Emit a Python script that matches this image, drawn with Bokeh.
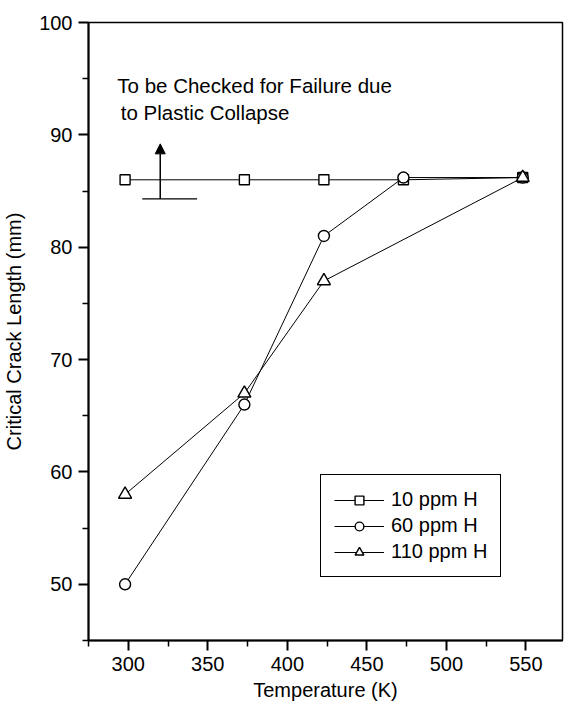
from bokeh.plotting import figure
from bokeh.models import (Range1d, Legend, LegendItem, Label, Arrow, NormalHead,
                          FixedTicker)
from bokeh.embed import file_html
from bokeh.resources import INLINE

# Data
temps = [298, 373, 423, 473, 548]
ppm10 = [86, 86, 86, 86, 86.2]
ppm60 = [50, 66, 81, 86.2, 86.2]
temps110 = [298, 373, 423, 548]
ppm110 = [58, 67, 77, 86.2]

x_ticks = [300, 350, 400, 450, 500, 550]
y_ticks = [50, 60, 70, 80, 90, 100]

FONT = "Liberation Sans"

p = figure(width=564, height=705, output_backend="svg", toolbar_location=None,
           x_range=Range1d(275, 573), y_range=Range1d(45, 100),
           min_border_left=88, min_border_right=2, min_border_top=22,
           min_border_bottom=65)
p.background_fill_color = "white"
p.border_fill_color = "white"
p.grid.visible = False
p.outline_line_color = "black"
p.outline_line_width = 1.5
p.outline_line_alpha = 1

for ax in (p.xaxis[0], p.yaxis[0]):
    ax.axis_line_width = 2
    ax.axis_line_color = "black"
    ax.major_tick_line_width = 2
    ax.minor_tick_line_width = 1.5
    ax.major_tick_out = 10
    ax.major_tick_in = 0
    ax.minor_tick_out = 6
    ax.minor_tick_in = 0
    ax.major_label_text_font = FONT
    ax.major_label_text_font_size = "20px"
    ax.major_label_text_color = "black"
    ax.axis_label_text_font = FONT
    ax.axis_label_text_font_size = "20px"
    ax.axis_label_text_font_style = "normal"
    ax.axis_label_text_color = "black"
    ax.major_label_standoff = 6

p.xaxis.ticker = FixedTicker(ticks=x_ticks, minor_ticks=[275, 325, 375, 425, 475, 525, 575])
p.yaxis.ticker = FixedTicker(ticks=y_ticks, minor_ticks=[45, 55, 65, 75, 85, 95])
p.xaxis.axis_label = "Temperature (K)"
p.yaxis.axis_label = "Critical Crack Length (mm)"
p.xaxis.axis_label_standoff = 5
p.yaxis.axis_label_standoff = 11

l1 = p.line(temps, ppm10, line_color="black", line_width=1)
s1 = p.scatter(temps, ppm10, marker="square", size=10, fill_color="white",
               line_color="black", line_width=1.4)
l2 = p.line(temps, ppm60, line_color="black", line_width=1)
s2 = p.scatter(temps, ppm60, marker="circle", size=11, fill_color="white",
               line_color="black", line_width=1.4)
l3 = p.line(temps110, ppm110, line_color="black", line_width=1)
s3 = p.scatter(temps110, ppm110, marker="triangle", size=13, fill_color="white",
               line_color="black", line_width=1.4)

legend = Legend(items=[
    LegendItem(label="10 ppm H", renderers=[l1, s1]),
    LegendItem(label="60 ppm H", renderers=[l2, s2]),
    LegendItem(label="110 ppm H", renderers=[l3, s3]),
], location=(232, 63))
legend.label_text_font = FONT
legend.label_text_font_size = "20px"
legend.label_text_color = "black"
legend.glyph_width = 50
legend.glyph_height = 22
legend.spacing = 3
legend.padding = 13
legend.margin = 0
legend.label_standoff = 7
legend.border_line_color = "black"
legend.border_line_width = 1.5
legend.border_line_alpha = 1
legend.background_fill_alpha = 1
p.add_layout(legend, "center")

# Annotation
p.add_layout(Label(x=293.1, y=94.4, text="To be Checked for Failure due",
                   text_font=FONT, text_font_size="20.5px", text_color="black",
                   text_baseline="alphabetic"))
p.add_layout(Label(x=295.3, y=91.98, text="to Plastic Collapse",
                   text_font=FONT, text_font_size="20.5px", text_color="black",
                   text_baseline="alphabetic"))
p.add_layout(Arrow(x_start=320.1, y_start=84.3, x_end=320.1, y_end=89.2,
                   line_color="black", line_width=1.5,
                   end=NormalHead(size=10, fill_color="black", line_color="black")))
p.segment(x0=[308.8], y0=[84.3], x1=[343.3], y1=[84.3], line_color="black", line_width=1.3)

open("out.html", "w").write(file_html(p, INLINE))
